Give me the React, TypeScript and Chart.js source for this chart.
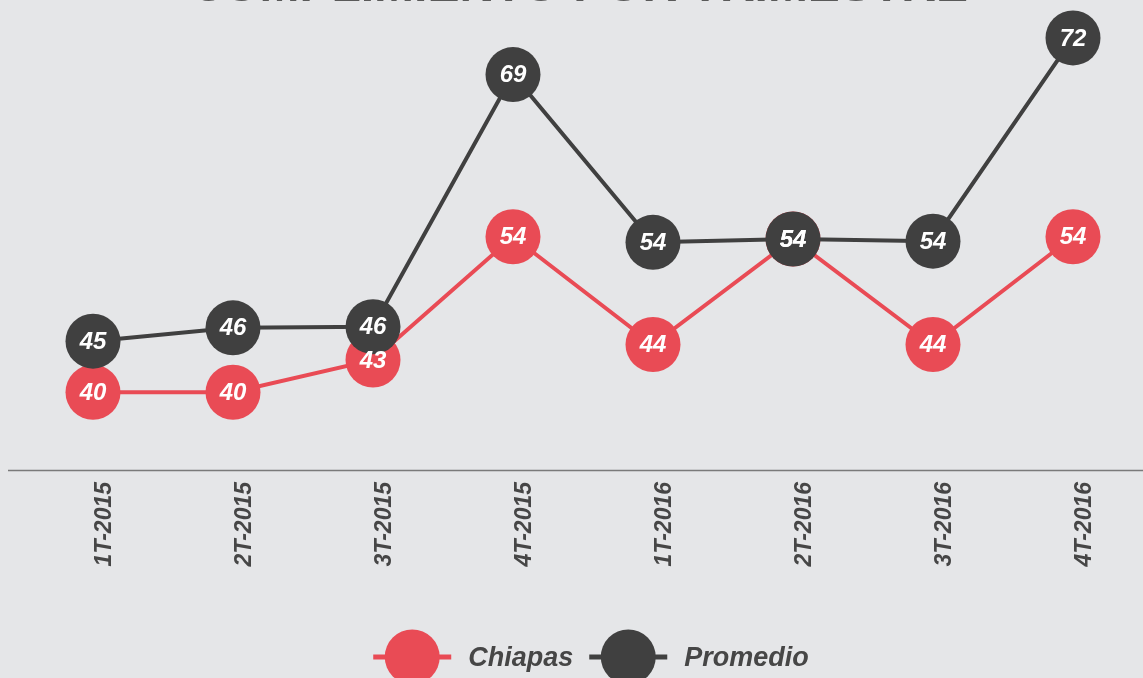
import React, { useEffect, useRef } from "react";
import { Chart, registerables } from "chart.js";

Chart.register(...registerables);

const categories = ["1T-2015", "2T-2015", "3T-2015", "4T-2015", "1T-2016", "2T-2016", "3T-2016", "4T-2016"];
const chiapasValues = [40, 40, 42.9, 54, 44.3, 53.8, 44.3, 54];
const promedioValues = [44.6, 45.8, 45.9, 68.6, 53.5, 53.8, 53.6, 71.9];
const seriesNames = ["Chiapas", "Promedio"];
const titleText = "CUMPLIMIENTO POR TRIMESTRE";

const RED = "#E94B55";
const DARK = "#404040";
const BG = "#E5E6E8";
const TEXT = "#464646";
const FONT = "'Liberation Sans', Arial, sans-serif";

const CANVAS_W = 1135;
const CANVAS_H = 760;

const decorPlugin = {
  id: "decor",
  beforeDatasetsDraw(chart: any) {
    const { ctx, chartArea } = chart;
    ctx.save();
    ctx.strokeStyle = "#7a7a7a";
    ctx.lineWidth = 1.5;
    ctx.beginPath();
    ctx.moveTo(0, chartArea.bottom + 0.5);
    ctx.lineTo(chart.width, chartArea.bottom + 0.5);
    ctx.stroke();
    ctx.restore();
  },
  afterDatasetsDraw(chart: any) {
    const { ctx } = chart;
    ctx.save();
    ctx.font = `italic bold 24px ${FONT}`;
    ctx.fillStyle = "#ffffff";
    ctx.textAlign = "center";
    ctx.textBaseline = "middle";
    [0, 1].forEach((di) => {
      const meta = chart.getDatasetMeta(di);
      const data = chart.data.datasets[di].data as number[];
      meta.data.forEach((pt: any, i: number) => {
        ctx.fillText(String(Math.round(data[i])), pt.x, pt.y + 1);
      });
    });
    ctx.restore();
  },
  afterDraw(chart: any) {
    const { ctx, chartArea } = chart;
    ctx.save();
    // title (mostly cut off above the viewport)
    ctx.font = `bold 48px ${FONT}`;
    ctx.fillStyle = "#5a5a5a";
    ctx.textAlign = "center";
    ctx.textBaseline = "alphabetic";
    ctx.fillText(titleText, (chartArea.left + chartArea.right) / 2 - 4, chartArea.top - 3);

    // legend
    const colors = [RED, DARK];
    ctx.font = `italic bold 27px ${FONT}`;
    const lineLen = 78;
    const r = 27.5;
    const gapText = 17;
    const gapItem = 16;
    const widths = seriesNames.map((n) => ctx.measureText(n).width);
    const total = widths.reduce((a, w) => a + lineLen + gapText + w, 0) + gapItem * (seriesNames.length - 1);
    const cx = (chartArea.left + chartArea.right) / 2 + 8;
    const y = chart.height - 43;
    let x = cx - total / 2;
    seriesNames.forEach((name, i) => {
      ctx.strokeStyle = colors[i];
      ctx.lineWidth = 5;
      ctx.beginPath();
      ctx.moveTo(x, y);
      ctx.lineTo(x + lineLen, y);
      ctx.stroke();
      ctx.fillStyle = colors[i];
      ctx.beginPath();
      ctx.arc(x + lineLen / 2, y, r, 0, Math.PI * 2);
      ctx.fill();
      x += lineLen + gapText;
      ctx.fillStyle = TEXT;
      ctx.textAlign = "left";
      ctx.textBaseline = "middle";
      ctx.fillText(name, x, y + 2);
      x += widths[i] + gapItem;
    });
    ctx.restore();
  },
};

export default function App() {
  const ref = useRef<HTMLCanvasElement | null>(null);

  useEffect(() => {
    if (!ref.current) return;
    const chart = new Chart(ref.current, {
      type: "line",
      data: {
        labels: categories,
        datasets: [
          {
            label: seriesNames[0],
            data: chiapasValues,
            borderColor: RED,
            backgroundColor: RED,
            pointBackgroundColor: RED,
            pointBorderColor: RED,
            borderWidth: 4,
            pointRadius: 27.5,
            pointHoverRadius: 27.5,
            pointBorderWidth: 0,
            tension: 0,
            order: 1,
          },
          {
            label: seriesNames[1],
            data: promedioValues,
            borderColor: DARK,
            backgroundColor: DARK,
            pointBackgroundColor: DARK,
            pointBorderColor: DARK,
            borderWidth: 4,
            pointRadius: 27.5,
            pointHoverRadius: 27.5,
            pointBorderWidth: 0,
            tension: 0,
            order: 0,
          },
        ],
      },
      options: {
        responsive: false,
        animation: false,
        devicePixelRatio: 1,
        layout: { autoPadding: false, padding: { top: 63.5, left: 15, right: 0, bottom: 110 } },
        plugins: {
          legend: { display: false },
          title: { display: false },
          tooltip: { enabled: false },
        },
        scales: {
          x: {
            type: "category",
            offset: true,
            grid: { display: false, drawTicks: false },
            border: { display: false },
            afterFit: (scale: any) => {
              scale.height = 120;
            },
            ticks: {
              autoSkip: false,
              minRotation: 90,
              maxRotation: 90,
              padding: 12,
              labelOffset: 11.5,
              color: TEXT,
              font: { family: FONT, size: 23, weight: "bold", style: "italic" },
            },
          },
          y: {
            display: false,
            min: 33,
            max: 75,
          },
        },
      },
      plugins: [decorPlugin],
    } as any);
    return () => chart.destroy();
  }, []);

  return (
    <div
      style={{
        position: "fixed",
        left: 0,
        top: 0,
        width: 1143,
        height: 678,
        overflow: "hidden",
        background: BG,
      }}
    >
      <canvas
        ref={ref}
        width={CANVAS_W}
        height={CANVAS_H}
        style={{ position: "absolute", left: 8, top: -60, width: CANVAS_W, height: CANVAS_H }}
      />
    </div>
  );
}
